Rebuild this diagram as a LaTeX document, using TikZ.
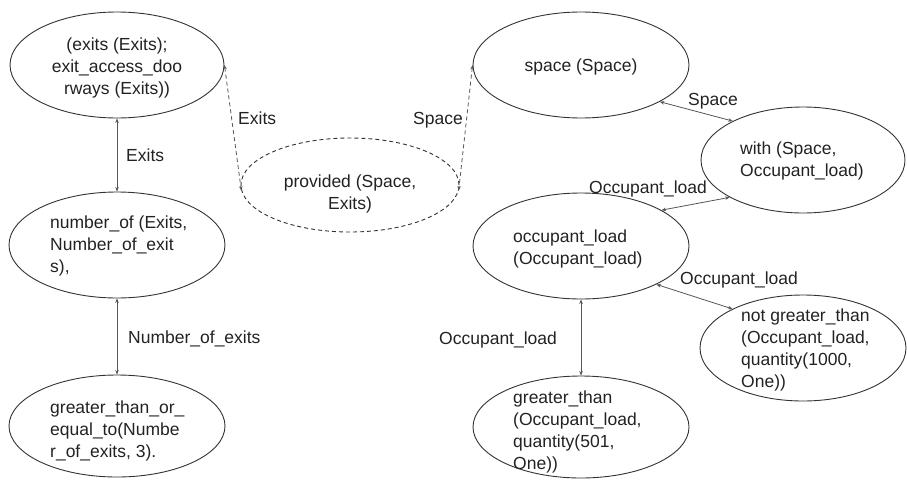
\documentclass[tikz,border=0pt]{standalone}
\usepackage{fontspec}
\setmainfont{Liberation Sans}
\usetikzlibrary{arrows.meta,shapes.geometric}
\definecolor{txt}{HTML}{222222}
\definecolor{edge}{HTML}{555555}
\definecolor{rim}{HTML}{333333}
\tikzset{
  ell/.style={ellipse, draw=rim, line width=0.9pt, inner sep=0pt},
  dell/.style={ell, dash pattern=on 4pt off 3pt},
  tx/.style={font=\fontsize{17.5}{22}\selectfont, text=txt, inner sep=0pt, align=left},
  txc/.style={font=\fontsize{17.5}{22}\selectfont, text=txt, inner sep=0pt, align=center},
  lbl/.style={font=\fontsize{17.5}{22}\selectfont, text=txt, inner sep=0pt, anchor=base west},
  conn/.style={draw=edge, line width=0.8pt, {Stealth[length=4.5pt,width=3.5pt]}-{Stealth[length=4.5pt,width=3.5pt]}},
  dconn/.style={conn, dash pattern=on 4pt off 3pt}
}
\begin{document}
\begin{tikzpicture}[x=1pt,y=-1pt]
\useasboundingbox (0,0) rectangle (907,479);
% ellipses
\node[ell, minimum width=214pt, minimum height=106pt] (ex) at (117,65) {};
\node[ell, minimum width=216pt, minimum height=106pt] (num) at (117,245) {};
\node[ell, minimum width=216pt, minimum height=102pt] (gte) at (117,426) {};
\node[dell, minimum width=218pt, minimum height=94pt] (pr) at (350,185) {};
\node[ell, minimum width=216pt, minimum height=106pt] (sp) at (581,65) {};
\node[ell, minimum width=204pt, minimum height=106pt] (wi) at (803,160) {};
\node[ell, minimum width=216pt, minimum height=106pt] (oc) at (581,246) {};
\node[ell, minimum width=206pt, minimum height=106pt] (ng) at (803,348) {};
\node[ell, minimum width=216pt, minimum height=102pt] (gt) at (581,427) {};
% texts
\node[txc] (ex-t) at (117,68) {(exits (Exits);\\exit\_access\_doo\\rways (Exits))};
\node[tx, anchor=west] (num-t) at (50,246) {number\_of (Exits,\\Number\_of\_exit\\s),};
\node[tx, anchor=west] (gte-t) at (50,431) {greater\_than\_or\_\\equal\_to(Numbe\\r\_of\_exits, 3).};
\node[txc] (pr-t) at (350,194) {provided (Space,\\Exits)};
\node[txc] (sp-t) at (581,67) {space (Space)};
\node[tx, anchor=west] (wi-t) at (740,161) {with (Space,\\Occupant\_load)};
\node[tx, anchor=west] (oc-t) at (513,249) {occupant\_load\\(Occupant\_load)};
\node[tx, anchor=west] (ng-t) at (741,350) {not greater\_than\\(Occupant\_load,\\quantity(1000,\\One))};
\node[tx, anchor=west] (gt-t) at (513,432) {greater\_than\\(Occupant\_load,\\quantity(501,\\One))};
% connectors
\draw[conn] (ex.south) -- (num.north);
\draw[conn] (num.south) -- (gte.north);
\draw[dconn] (ex.east) -- (pr.183);
\draw[dconn] (sp.west) -- (pr.-3);
\draw[conn] (sp.-25.7) -- (wi.151.6);
\draw[conn] (oc.24.5) -- (wi.207);
\draw[conn] (oc.-27.5) -- (ng.151.8);
\draw[conn] (oc.south) -- (gt.north);
% labels
\node[lbl] (l1) at (126,161) {Exits};
\node[lbl] (l2) at (128,343) {Number\_of\_exits};
\node[lbl] (l3) at (238,124) {Exits};
\node[lbl, anchor=base east] (l4) at (463,124) {Space};
\node[lbl] (l5) at (688,105) {Space};
\node[lbl] (l6) at (589,193) {Occupant\_load};
\node[lbl] (l7) at (680,284) {Occupant\_load};
\node[lbl] (l8) at (439,344) {Occupant\_load};
\end{tikzpicture}
\end{document}
